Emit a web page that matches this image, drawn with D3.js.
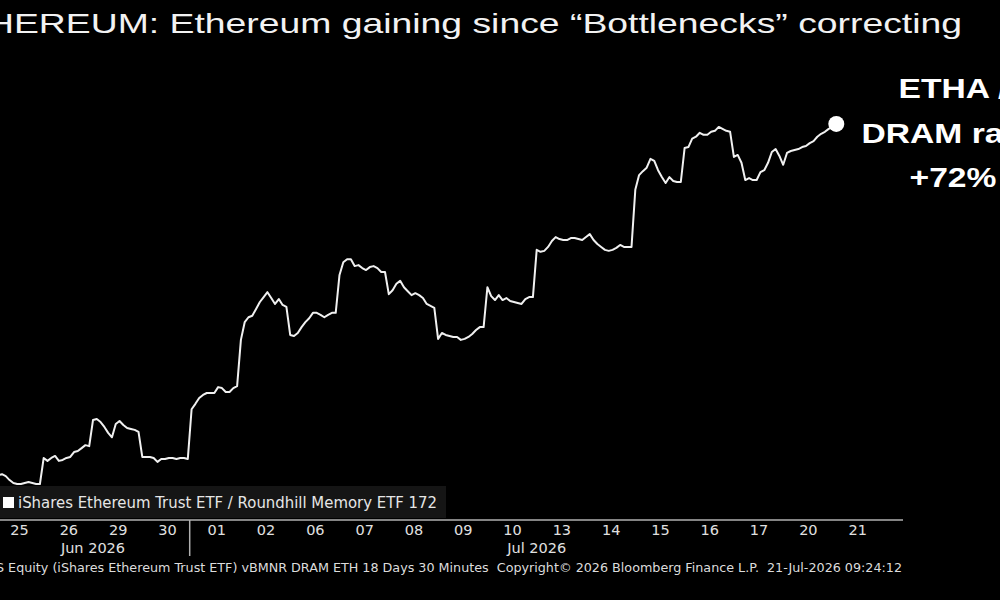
<!DOCTYPE html>
<html>
<head>
<meta charset="utf-8">
<script src="https://cdn.jsdelivr.net/npm/d3@7"></script>
<style>
  html, body { margin: 0; padding: 0; background: #000; overflow: hidden; }
  #chart { width: 1000px; height: 600px; }
</style>
</head>
<body>
<div id="chart"></div>
<script>
// Trading sessions on the x axis (30 minute bars, 13 per session)
const dayLabels = ["25", "26", "29", "30", "01", "02", "06", "07", "08", "09", "10", "13", "14", "15", "16", "17", "20", "21"];
const monthLabels = ["Jun 2026", "Jul 2026"];
const monthFirstDay = [0, 4];
const monthLastDay = [3, 17];
const barsPerDay = 13;

// ETHA / DRAM ratio, rebased to 100, one value per 30 minute bar
const ratio = [
  100.4, 100.6, 100.8, 100.4, 99.6, 99.0, 98.8, 98.8, 99.0, 99.2, 99.0, 98.8, 98.8,          // 25
  104.1, 103.5, 104.1, 104.5, 103.5, 103.7, 104.1, 104.3, 105.3, 105.5, 106.1, 106.7, 106.5, // 26
  111.8, 112.0, 111.4, 110.4, 109.2, 108.3, 111.0, 111.6, 110.8, 110.2, 110.0, 109.8, 109.4, // 29
  104.3, 104.3, 104.3, 104.1, 103.3, 103.9, 103.9, 104.1, 104.1, 103.9, 104.1, 104.1, 103.9, // 30
  114.0, 115.1, 116.3, 116.9, 117.3, 117.3, 117.3, 118.5, 118.3, 117.5, 117.5, 118.3, 118.7, // 01
  128.1, 131.7, 132.7, 133.0, 134.4, 135.8, 136.8, 137.8, 136.6, 135.4, 136.4, 135.2, 134.8, // 02
  129.1, 128.9, 129.5, 130.7, 131.7, 132.5, 133.6, 133.6, 133.2, 132.7, 133.2, 133.6, 133.6, // 06
  141.3, 143.9, 144.5, 144.5, 143.1, 143.3, 142.7, 142.3, 142.9, 143.1, 142.7, 141.9, 141.9, // 07
  137.4, 138.2, 139.5, 140.1, 138.8, 138.0, 137.2, 137.6, 137.2, 136.6, 135.4, 135.0, 134.6, // 08
  128.3, 129.5, 129.1, 128.9, 128.7, 128.7, 128.1, 128.3, 128.7, 129.3, 130.1, 130.7, 130.7, // 09
  138.8, 137.0, 136.2, 137.2, 136.2, 136.6, 136.0, 135.8, 135.6, 135.4, 136.4, 136.8, 136.8, // 10
  146.4, 146.0, 146.2, 147.0, 148.2, 149.0, 148.6, 148.4, 148.4, 148.8, 148.8, 148.6, 148.4, // 13
  149.0, 149.6, 148.4, 147.6, 147.0, 146.4, 146.2, 146.4, 146.8, 147.4, 147.0, 147.0, 147.0, // 14
  158.6, 161.6, 162.4, 163.1, 164.9, 164.5, 162.6, 161.2, 160.0, 161.2, 160.4, 160.2, 160.2, // 15
  167.1, 167.3, 169.0, 169.4, 170.2, 169.8, 169.8, 170.4, 170.6, 171.4, 171.0, 170.6, 170.4, // 16
  165.3, 165.7, 164.1, 160.6, 161.0, 160.6, 160.6, 162.2, 162.6, 164.1, 166.3, 166.9, 165.5, // 17
  163.7, 166.1, 166.5, 166.7, 166.9, 167.3, 167.5, 168.1, 168.5, 169.4, 170.0, 170.4, 171.0, // 20
  171.4, 172.0                                                                                // 21
];
const lastValue = 172;

const titleText = "ETHEREUM: Ethereum gaining since \u201CBottlenecks\u201D correcting";
const calloutLines = ["ETHA /", "DRAM ratio", "+72%"];
const legendLabel = "iShares Ethereum Trust ETF / Roundhill Memory ETF";
const footerText = "ETHA US Equity (iShares Ethereum Trust ETF) vBMNR DRAM ETH 18 Days 30 Minutes  Copyright\u00A9 2026 Bloomberg Finance L.P.  21-Jul-2026 09:24:12";

const width = 1000, height = 600;
const svg = d3.select("#chart").append("svg")
    .attr("width", width)
    .attr("height", height);

svg.append("rect").attr("width", width).attr("height", height).attr("fill", "#000");

// scales: chart is cropped on the left, first bar sits just off-screen
const dayWidth = 49.3;
const x = d3.scaleLinear()
    .domain([0, dayLabels.length * barsPerDay])
    .range([-5.6, -5.6 + dayLabels.length * dayWidth]);
const y = d3.scaleLinear()
    .domain([92.5, 185])
    .range([515, 60]);

// stretch a text so that the part from char `fromChar` spans `visWidth` starting at `visStart`
function stretchText(sel, fromChar, visStart, visWidth) {
    const node = sel.node();
    const full = node.getComputedTextLength();
    const pre = fromChar > 0 ? node.getSubStringLength(0, fromChar) : 0;
    const k = visWidth / (full - pre);
    sel.attr("textLength", full * k)
        .attr("lengthAdjust", "spacingAndGlyphs")
        .attr("x", visStart - pre * k);
}

// title
const title = svg.append("text")
    .attr("x", 0)
    .attr("y", 33)
    .style("font-family", "'Liberation Sans', Arial, sans-serif")
    .style("font-size", "28px")
    .style("fill", "#f2f2f2")
    .text(titleText);
stretchText(title, 2, -13, 975);

// line
const line = d3.line()
    .x((d, i) => x(i))
    .y(d => y(d));

svg.append("path")
    .datum(ratio)
    .attr("d", line)
    .attr("fill", "none")
    .attr("stroke", "#f0f0f0")
    .attr("stroke-width", 2)
    .attr("stroke-linejoin", "round");

// end dot
svg.append("circle")
    .attr("cx", x(ratio.length - 1))
    .attr("cy", y(ratio[ratio.length - 1]))
    .attr("r", 8)
    .attr("fill", "#fff");

// callout
calloutLines.forEach((t, i) => {
    const txt = svg.append("text")
        .attr("x", 953)
        .attr("y", 98 + i * 44.5)
        .attr("text-anchor", "middle")
        .style("font-family", "'Liberation Sans', Arial, sans-serif")
        .style("font-weight", "bold")
        .style("font-size", "28px")
        .style("fill", "#fff")
        .text(t);
    const w = txt.node().getComputedTextLength();
    txt.attr("textLength", w * 1.2).attr("lengthAdjust", "spacingAndGlyphs");
});

// legend box
svg.append("rect")
    .attr("x", -2)
    .attr("y", 486)
    .attr("width", 448)
    .attr("height", 32)
    .attr("fill", "#151515");
svg.append("rect")
    .attr("x", 3)
    .attr("y", 497)
    .attr("width", 11)
    .attr("height", 11)
    .attr("fill", "#fff");
const legendText = svg.append("text")
    .attr("x", 18)
    .attr("y", 508)
    .style("font-family", "'DejaVu Sans', sans-serif")
    .style("font-size", "15px")
    .style("fill", "#e6e6e6")
    .text(legendLabel + " " + lastValue);
stretchText(legendText, 0, 18, 419);

// x axis
const axisY = 520;
const xAxis = d3.axisBottom(x)
    .tickValues(dayLabels.map((d, i) => i * barsPerDay + (barsPerDay - 1) / 2 + 0.5))
    .tickFormat((d, i) => dayLabels[i])
    .tickSize(0)
    .tickPadding(5);

const gx = svg.append("g")
    .attr("transform", `translate(0,${axisY})`)
    .call(xAxis);
gx.select(".domain").remove();
gx.selectAll("text")
    .style("font-family", "'DejaVu Sans', sans-serif")
    .style("font-size", "14.5px")
    .style("fill", "#e0e0e0");

svg.append("line")
    .attr("x1", 0)
    .attr("x2", 903)
    .attr("y1", axisY)
    .attr("y2", axisY)
    .attr("stroke", "#b0b0b0")
    .attr("stroke-width", 1.5);

// month divider between sessions
monthFirstDay.slice(1).forEach(d => {
    const xv = x(d * barsPerDay) - 1.9;
    svg.append("line")
        .attr("x1", xv).attr("x2", xv)
        .attr("y1", axisY).attr("y2", axisY + 36)
        .attr("stroke", "#b0b0b0")
        .attr("stroke-width", 1.5);
});

// month labels centred under their sessions
monthLabels.forEach((m, i) => {
    const c0 = x(monthFirstDay[i] * barsPerDay + barsPerDay / 2);
    const c1 = x(monthLastDay[i] * barsPerDay + barsPerDay / 2);
    svg.append("text")
        .attr("x", (c0 + c1) / 2)
        .attr("y", 553)
        .attr("text-anchor", "middle")
        .style("font-family", "'DejaVu Sans', sans-serif")
        .style("font-size", "14.5px")
        .style("fill", "#e0e0e0")
        .text(m);
});

// footer
const footer = svg.append("text")
    .attr("x", 0)
    .attr("y", 572)
    .style("font-family", "'DejaVu Sans', sans-serif")
    .style("font-size", "12px")
    .style("white-space", "pre")
    .style("fill", "#dcdcdc")
    .text(footerText);
stretchText(footer, footerText.indexOf("S Equity"), -4, 906);
</script>
</body>
</html>
